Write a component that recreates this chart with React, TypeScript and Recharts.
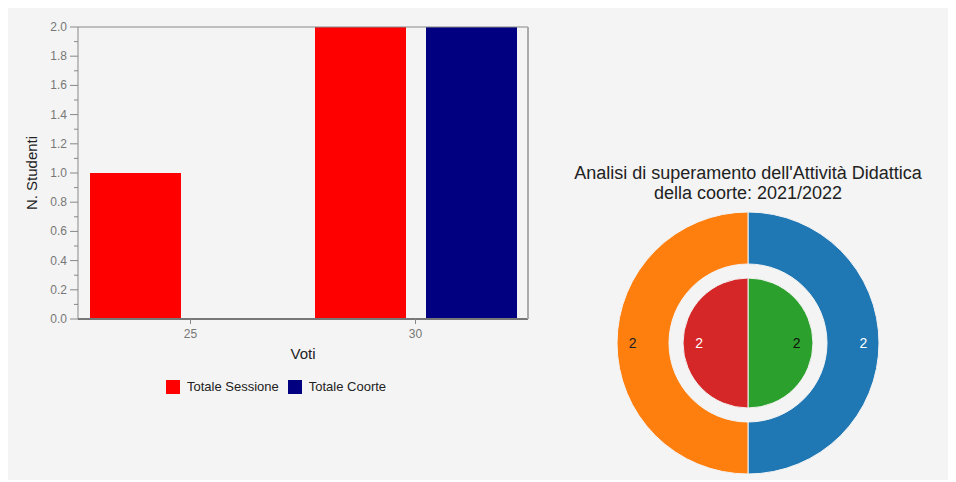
import {
  BarChart,
  Bar,
  XAxis,
  YAxis,
  Label,
  PieChart,
  Pie,
  Cell,
} from "recharts";

const categories = ["25", "30"];
const totaleSessione = [1, 2];
const totaleCoorte = [0, 2];
const yTicks = [0, 0.1, 0.2, 0.3, 0.4, 0.5, 0.6, 0.7, 0.8, 0.9, 1.0, 1.1, 1.2, 1.3, 1.4, 1.5, 1.6, 1.7, 1.8, 1.9, 2.0];

const outerNames = ["Superato", "Non superato"];
const outerValues = [2, 2];
const innerNames = ["Superato sessione", "Non superato sessione"];
const innerValues = [2, 2];

const outerColors = ["#1f77b4", "#ff7f0e"];
const outerLabelColors = ["#ffffff", "#222222"];
const innerColors = ["#2ca02c", "#d62728"];
const innerLabelColors = ["#111111", "#ffffff"];

const barData = categories.map((c, i) => ({
  voti: c,
  sessione: totaleSessione[i],
  coorte: totaleCoorte[i],
}));
const outerData = outerNames.map((n, i) => ({ name: n, value: outerValues[i] }));
const innerData = innerNames.map((n, i) => ({ name: n, value: innerValues[i] }));

const FONT = "'Liberation Sans', Arial, sans-serif";
const RAD = Math.PI / 180;

const YTick = (props: any) => {
  const { x, y, payload } = props;
  const v = payload.value;
  const major = Math.round(v * 10) % 2 === 0;
  return (
    <g>
      <line x1={x} x2={x - (major ? 8 : 4)} y1={y} y2={y} stroke="#888" strokeWidth={1} />
      {major && (
        <text x={x - 11} y={y} dy={4} textAnchor="end" fontSize={12} fill="#777" fontFamily={FONT}>
          {v.toFixed(1)}
        </text>
      )}
    </g>
  );
};

const pieLabel = (colors: string[], factor: number) => (props: any) => {
  const { cx, cy, midAngle, innerRadius, outerRadius, value, index } = props;
  const r = innerRadius + (outerRadius - innerRadius) * factor;
  const x = cx + r * Math.cos(-midAngle * RAD);
  const y = cy + r * Math.sin(-midAngle * RAD);
  return (
    <text x={x} y={y} dy={5} textAnchor="middle" fontSize={14} fill={colors[index]} fontFamily={FONT}>
      {value}
    </text>
  );
};

export default function App() {
  return (
    <div
      style={{
        position: "relative",
        width: 940,
        height: 472,
        background: "#f4f4f4",
        fontFamily: FONT,
      }}
    >
      <div style={{ position: "absolute", left: 0, top: 0 }}>
        <BarChart
          width={540}
          height={360}
          data={barData}
          margin={{ top: 18, right: 19, left: 0, bottom: 0 }}
          barSize={91}
          barGap={20}
        >
          <XAxis
            dataKey="voti"
            height={49}
            axisLine={{ stroke: "#777", strokeWidth: 2 }}
            tickLine={{ stroke: "#888" }}
            tickSize={5}
            tickMargin={5}
            tick={{ fontSize: 12, fill: "#777", fontFamily: FONT }}
          >
            <Label
              content={(p: any) => {
                const vb = p.viewBox;
                return (
                  <text
                    x={vb.x + vb.width / 2}
                    y={vb.y + 40}
                    textAnchor="middle"
                    fontSize={15}
                    fill="#222"
                    fontFamily={FONT}
                  >
                    Voti
                  </text>
                );
              }}
            />
          </XAxis>
          <XAxis
            xAxisId="top"
            dataKey="voti"
            orientation="top"
            height={1}
            tick={false}
            tickLine={false}
            axisLine={{ stroke: "#888" }}
          />
          <YAxis
            width={70}
            domain={[0, 2]}
            ticks={yTicks}
            interval={0}
            tickLine={false}
            tickSize={0}
            tickMargin={0}
            axisLine={{ stroke: "#888" }}
            tick={<YTick />}
          >
            <Label
              value="N. Studenti"
              angle={-90}
              position="insideLeft"
              offset={24}
              style={{ textAnchor: "middle", fontSize: 15, fill: "#222", fontFamily: FONT }}
            />
          </YAxis>
          <YAxis
            yAxisId="right"
            orientation="right"
            width={1}
            domain={[0, 2]}
            tick={false}
            tickLine={false}
            axisLine={{ stroke: "#aaa", strokeWidth: 2 }}
          />
          <Bar dataKey="sessione" name="Totale Sessione" fill="#ff0000" isAnimationActive={false} />
          <Bar
            dataKey="coorte"
            name="Totale Coorte"
            fill="#000080"
            minPointSize={1}
            isAnimationActive={false}
          />
        </BarChart>
      </div>

      <div
        style={{
          position: "absolute",
          left: 158,
          top: 371,
          display: "flex",
          alignItems: "center",
          fontSize: 13,
          color: "#222",
        }}
      >
        <span style={{ width: 14, height: 14, background: "#ff0000", display: "inline-block" }} />
        <span style={{ marginLeft: 7 }}>Totale Sessione</span>
        <span
          style={{ width: 14, height: 14, background: "#000080", display: "inline-block", marginLeft: 9 }}
        />
        <span style={{ marginLeft: 7 }}>Totale Coorte</span>
      </div>

      <div
        style={{
          position: "absolute",
          left: 540,
          top: 155,
          width: 400,
          textAlign: "center",
          fontSize: 18,
          lineHeight: "20px",
          color: "#222",
        }}
      >
        Analisi di superamento dell'Attività Didattica
        <br />
        della coorte: 2021/2022
      </div>

      <div style={{ position: "absolute", left: 540, top: 0 }}>
        <PieChart width={400} height={472} margin={{ top: 0, right: 0, bottom: 0, left: 0 }}>
          <Pie
            data={outerData}
            dataKey="value"
            cx={200}
            cy={335}
            innerRadius={79}
            outerRadius={131}
            startAngle={90}
            endAngle={-270}
            stroke="#f4f4f4"
            strokeWidth={1}
            labelLine={false}
            label={pieLabel(outerLabelColors, 0.7)}
            isAnimationActive={false}
          >
            {outerData.map((d, i) => (
              <Cell key={d.name} fill={outerColors[i]} />
            ))}
          </Pie>
          <Pie
            data={innerData}
            dataKey="value"
            cx={200}
            cy={335}
            innerRadius={0}
            outerRadius={65}
            startAngle={90}
            endAngle={-270}
            stroke="#f4f4f4"
            strokeWidth={1}
            labelLine={false}
            label={pieLabel(innerLabelColors, 0.75)}
            isAnimationActive={false}
          >
            {innerData.map((d, i) => (
              <Cell key={d.name} fill={innerColors[i]} />
            ))}
          </Pie>
        </PieChart>
      </div>
    </div>
  );
}
